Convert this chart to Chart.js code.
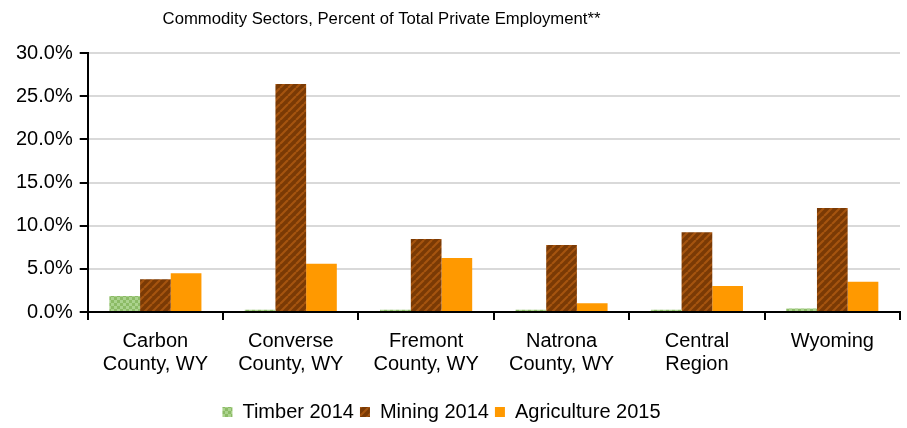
<!DOCTYPE html>
<html>
<head>
<meta charset="utf-8">
<script src="https://cdn.jsdelivr.net/npm/chart.js@4/dist/chart.umd.min.js"></script>
<style>
  html, body { margin: 0; padding: 0; background: #fff; }
  #wrap { width: 907px; height: 428px; }
</style>
</head>
<body>
<div id="wrap"><canvas id="chart"></canvas></div>
<script>
// regions and values (percent of private employment)
const regions = [
  ['Carbon', 'County, WY'],
  ['Converse', 'County, WY'],
  ['Fremont', 'County, WY'],
  ['Natrona', 'County, WY'],
  ['Central', 'Region'],
  'Wyoming'
];
const timber2014 = [1.85, 0.25, 0.25, 0.25, 0.25, 0.4];
const mining2014 = [3.8, 26.4, 8.45, 7.75, 9.25, 12.05];
const agriculture2015 = [4.5, 5.6, 6.25, 1.0, 3.0, 3.5];
const yTicks = [0, 5, 10, 15, 20, 25, 30];

// fill patterns
function timberPattern() {
  const c = document.createElement('canvas');
  c.width = 6; c.height = 6;
  const g = c.getContext('2d');
  g.fillStyle = '#8cbb66';
  g.fillRect(0, 0, 6, 6);
  g.fillStyle = '#abd38e';
  g.fillRect(0, 0, 3, 3);
  g.fillRect(3, 3, 3, 3);
  return g.createPattern(c, 'repeat');
}
function miningPattern() {
  const c = document.createElement('canvas');
  c.width = 8; c.height = 8;
  const g = c.getContext('2d');
  g.fillStyle = '#7a3a05';
  g.fillRect(0, 0, 8, 8);
  g.strokeStyle = '#a5540f';
  g.lineWidth = 2.2;
  g.beginPath();
  for (let k = -8; k <= 16; k += 8) {
    g.moveTo(k, 8);
    g.lineTo(k + 8, 0);
  }
  g.stroke();
  return g.createPattern(c, 'repeat');
}

// move title and legend left of the canvas centre
const shiftBoxes = {
  id: 'shiftBoxes',
  afterLayout(chart) {
    const lg = chart.legend;
    lg.left -= 13;
    lg.right -= 13;
    const tb = chart.titleBlock;
    tb.left -= 73;
    tb.right -= 73;
  }
};

const font = 'Liberation Sans, Arial, sans-serif';

new Chart(document.getElementById('chart'), {
  type: 'bar',
  data: {
    labels: regions,
    datasets: [
      { label: 'Timber 2014', data: timber2014, backgroundColor: timberPattern() },
      { label: 'Mining 2014', data: mining2014, backgroundColor: miningPattern() },
      { label: 'Agriculture 2015', data: agriculture2015, backgroundColor: '#ff9900' }
    ]
  },
  plugins: [shiftBoxes],
  options: {
    responsive: true,
    maintainAspectRatio: false,
    animation: false,
    layout: { padding: { left: 9, right: 7, top: 0, bottom: -4 } },
    datasets: { bar: { categoryPercentage: 0.68, barPercentage: 1.0 } },
    plugins: {
      title: {
        display: true,
        text: 'Commodity Sectors, Percent of Total Private Employment**',
        color: '#000',
        font: { family: font, size: 16.7, weight: 'normal' },
        padding: { top: 9, bottom: 24 }
      },
      legend: {
        position: 'bottom',
        labels: {
          color: '#000',
          font: { family: font, size: 20 },
          boxWidth: 10,
          boxHeight: 10,
          padding: 6
        }
      },
      tooltip: { enabled: false }
    },
    scales: {
      x: {
        afterFit: s => { s.height += 10; },
        grid: {
          drawOnChartArea: false,
          drawTicks: true,
          tickLength: 8,
          tickColor: '#000',
          lineWidth: 2,
          offset: true
        },
        border: { color: '#000', width: 2 },
        ticks: {
          color: '#000',
          font: { family: font, size: 20, lineHeight: 1.15 },
          maxRotation: 0,
          padding: 10
        }
      },
      y: {
        min: 0,
        max: 30,
        afterBuildTicks: axis => { axis.ticks = yTicks.map(v => ({ value: v })); },
        grid: {
          color: '#d9d9d9',
          lineWidth: 2,
          tickColor: '#000',
          tickLength: 8
        },
        border: { color: '#000', width: 2 },
        ticks: {
          color: '#000',
          font: { family: font, size: 20 },
          padding: 7,
          callback: v => v.toFixed(1) + '%'
        }
      }
    }
  }
});
</script>
</body>
</html>
